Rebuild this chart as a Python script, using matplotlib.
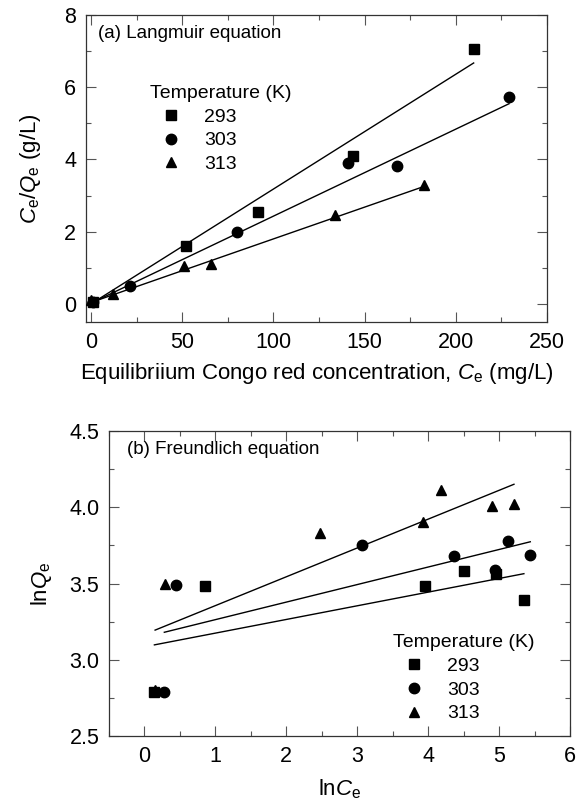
import matplotlib
matplotlib.use("Agg")
import matplotlib.pyplot as plt
import numpy as np
from matplotlib.ticker import MultipleLocator

plt.rcParams['font.family'] = ['Liberation Sans', 'DejaVu Sans']
plt.rcParams['mathtext.fontset'] = 'custom'
plt.rcParams['mathtext.rm'] = 'Liberation Sans'
plt.rcParams['mathtext.it'] = 'Liberation Sans:italic'

temps = ['293', '303', '313']
markers = ['s', 'o', '^']

# (a) Langmuir: Ce (mg/L) vs Ce/Qe (g/L)
lang_x_293 = [0.9, 52.1, 91.5, 143.4, 209.8]
lang_y_293 = [0.05, 1.60, 2.54, 4.09, 7.06]
lang_x_303 = [1.0, 21.4, 79.8, 140.9, 167.8, 229.2]
lang_y_303 = [0.05, 0.50, 2.00, 3.89, 3.83, 5.73]
lang_x_313 = [0.0, 11.9, 51.2, 65.8, 133.6, 182.4]
lang_y_313 = [0.11, 0.28, 1.06, 1.11, 2.45, 3.30]
lang_slope = [0.0318, 0.0241, 0.0176]
lang_icpt = [0.0, 0.02, 0.04]

# (b) Freundlich: lnCe vs lnQe
fr_x_293 = [0.14, 0.85, 3.95, 4.51, 4.96, 5.35]
fr_y_293 = [2.787, 3.483, 3.483, 3.583, 3.561, 3.391]
fr_x_303 = [0.28, 0.44, 3.07, 4.37, 4.94, 5.13, 5.44]
fr_y_303 = [2.787, 3.489, 3.752, 3.683, 3.591, 3.778, 3.687]
fr_x_313 = [0.15, 0.29, 2.47, 3.93, 4.18, 4.90, 5.21]
fr_y_313 = [2.80, 3.50, 3.83, 3.902, 4.113, 4.011, 4.022]
fr_slope = [0.0896, 0.115, 0.189]
fr_icpt = [3.085, 3.148, 3.166]

W, H = 583, 808
fig = plt.figure(figsize=(W / 100, H / 100), dpi=100)
ax1 = fig.add_axes([86 / W, 1 - 322 / H, 461 / W, 307 / H])
ax2 = fig.add_axes([109 / W, 1 - 736 / H, 461 / W, 305 / H])

lang = [(lang_x_293, lang_y_293), (lang_x_303, lang_y_303), (lang_x_313, lang_y_313)]
fr = [(fr_x_293, fr_y_293), (fr_x_303, fr_y_303), (fr_x_313, fr_y_313)]

for i, (xs, ys) in enumerate(lang):
    xs = np.array(xs)
    xl = np.array([xs.min(), xs.max()])
    ax1.plot(xl, lang_slope[i] * xl + lang_icpt[i], color='black', lw=1.0, zorder=2)
for i, (xs, ys) in enumerate(lang):
    ax1.plot(xs, ys, linestyle='none', marker=markers[i], color='black',
             markersize=7.5 if markers[i] != 's' else 7, label=temps[i], zorder=3)

for i, (xs, ys) in enumerate(fr):
    xs = np.array(xs)
    xl = np.array([xs.min(), xs.max()])
    ax2.plot(xl, fr_slope[i] * xl + fr_icpt[i], color='black', lw=1.0, zorder=2)
for i, (xs, ys) in enumerate(fr):
    ax2.plot(xs, ys, linestyle='none', marker=markers[i], color='black',
             markersize=7.5 if markers[i] != 's' else 7, label=temps[i], zorder=3)

ax1.set_xlim(-2.7, 250)
ax1.set_ylim(-0.5, 8)
ax1.xaxis.set_major_locator(MultipleLocator(50))
ax1.xaxis.set_minor_locator(MultipleLocator(25))
ax1.yaxis.set_major_locator(MultipleLocator(2))
ax1.yaxis.set_minor_locator(MultipleLocator(1))

ax2.set_xlim(-0.5, 6)
ax2.set_ylim(2.5, 4.5)
ax2.xaxis.set_major_locator(MultipleLocator(1))
ax2.xaxis.set_minor_locator(MultipleLocator(0.5))
ax2.yaxis.set_major_locator(MultipleLocator(0.5))
ax2.yaxis.set_minor_locator(MultipleLocator(0.25))
ax2.yaxis.set_major_formatter(matplotlib.ticker.FormatStrFormatter('%.1f'))

for ax in (ax1, ax2):
    ax.tick_params(which='both', direction='in', top=True, right=True,
                   labelsize=15.5, width=0.8, color='#555555')
    ax.tick_params(which='major', length=7)
    ax.tick_params(which='minor', length=3.5)
    ax.tick_params(axis='x', which='major', pad=7)
    ax.tick_params(axis='y', which='major', pad=7)
    for s in ax.spines.values():
        s.set_linewidth(0.9)
        s.set_color('#333333')

ax1.set_xlabel(r'Equilibriium Congo red concentration, $\mathit{C}_\mathrm{e}$ (mg/L)',
               fontsize=16, labelpad=6)
ax1.set_ylabel(r'$\mathit{C}_\mathrm{e}$/$\mathit{Q}_\mathrm{e}$ (g/L)', fontsize=16, labelpad=15)
ax2.set_xlabel(r'ln$\mathit{C}_\mathrm{e}$', fontsize=16, labelpad=8)
ax2.set_ylabel(r'ln$\mathit{Q}_\mathrm{e}$', fontsize=16, labelpad=11)

ax1.text(0.026, 0.94, '(a) Langmuir equation', transform=ax1.transAxes,
         fontsize=13.5, va='center', ha='left')
ax2.text(0.04, 0.938, '(b) Freundlich equation', transform=ax2.transAxes,
         fontsize=13.5, va='center', ha='left')

leg_kw = dict(frameon=False, loc='upper left', fontsize=14, title_fontsize=14,
              handlelength=2.15, handletextpad=0.65, labelspacing=0.32,
              alignment='left', borderaxespad=0)
leg1 = ax1.legend(title='Temperature (K)', bbox_to_anchor=(0.1215, 0.798), **leg_kw)
leg2 = ax2.legend(title='Temperature (K)', bbox_to_anchor=(0.599, 0.36), **leg_kw)

fig.savefig('out.png', dpi=100)
